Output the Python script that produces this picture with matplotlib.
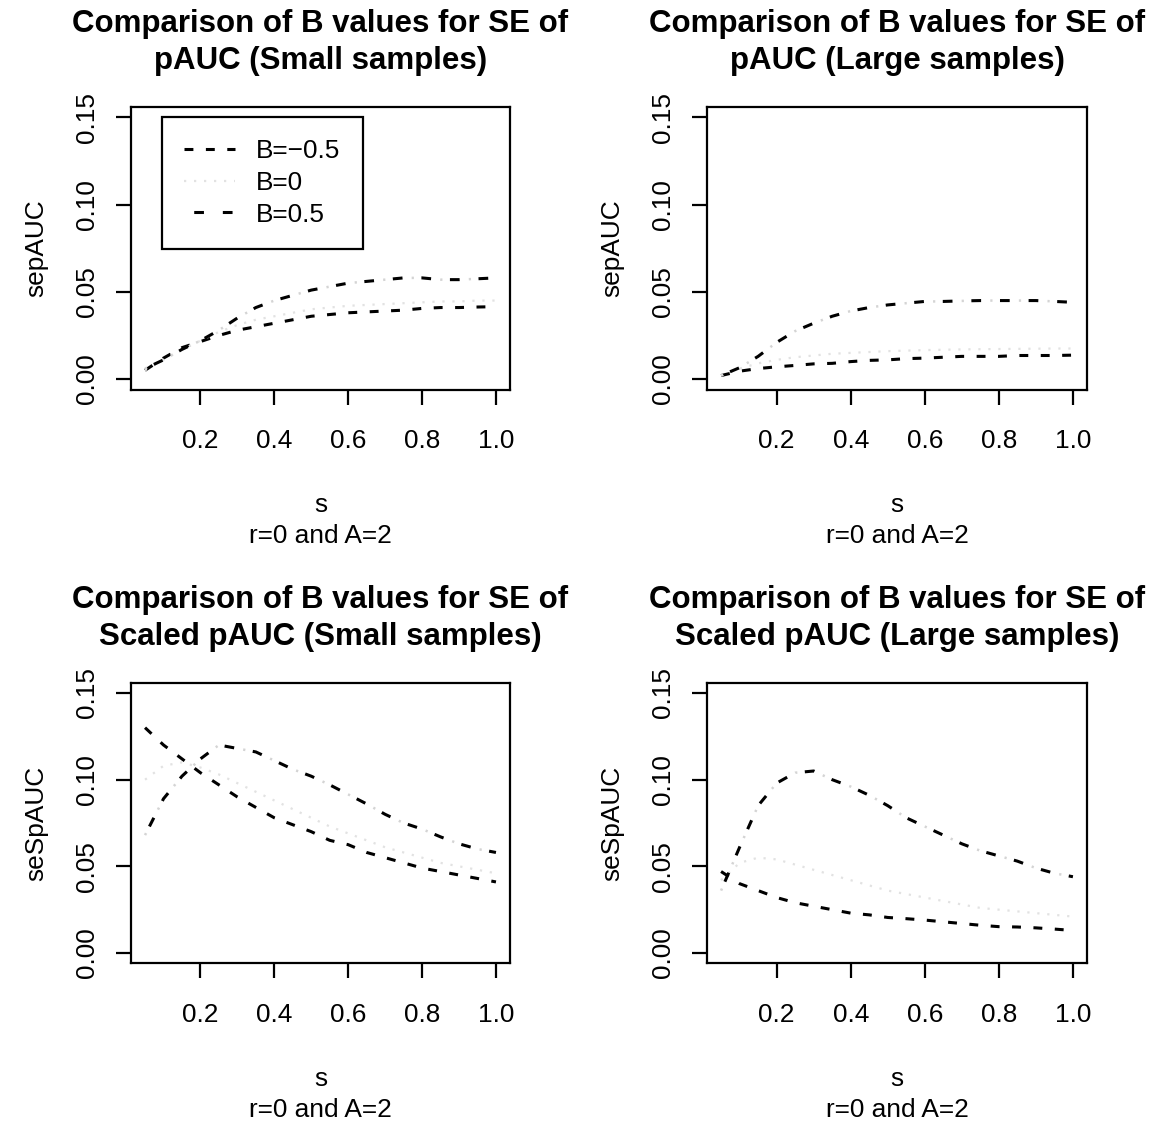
import matplotlib
matplotlib.use("Agg")
import matplotlib.pyplot as plt

plt.rcParams['font.family'] = ['Liberation Sans', 'DejaVu Sans']
plt.rcParams['lines.scale_dashes'] = False
plt.rcParams['axes.unicode_minus'] = True

# ---------------------------------------------------------------- data
s = [0.05, 0.10, 0.15, 0.20, 0.25, 0.30, 0.35, 0.40, 0.45, 0.50,
     0.55, 0.60, 0.65, 0.70, 0.75, 0.80, 0.85, 0.90, 0.95, 1.00]

# SE of pAUC, small samples
sepauc_small_bneg = [0.005, 0.012, 0.018, 0.0215, 0.025, 0.028, 0.030, 0.032, 0.034, 0.036,
                     0.037, 0.038, 0.0385, 0.039, 0.0395, 0.0405, 0.041, 0.041, 0.0413, 0.0415]
sepauc_small_b0 = [0.005, 0.011, 0.017, 0.022, 0.027, 0.031, 0.034, 0.036, 0.038, 0.040,
                   0.041, 0.042, 0.0425, 0.043, 0.0435, 0.044, 0.0445, 0.0445, 0.045, 0.045]
sepauc_small_bpos = [0.006, 0.011, 0.017, 0.022, 0.028, 0.035, 0.041, 0.045, 0.048, 0.051,
                     0.053, 0.055, 0.056, 0.057, 0.058, 0.058, 0.057, 0.057, 0.0575, 0.058]

# SE of pAUC, large samples
sepauc_large_bneg = [0.002, 0.0045, 0.006, 0.007, 0.0078, 0.0087, 0.009, 0.010, 0.0107, 0.011,
                     0.0117, 0.012, 0.0125, 0.013, 0.013, 0.013, 0.0135, 0.0135, 0.0135, 0.0137]
sepauc_large_b0 = [0.002, 0.006, 0.009, 0.011, 0.0125, 0.0135, 0.0145, 0.015, 0.0155, 0.016,
                   0.0163, 0.0166, 0.0168, 0.017, 0.0171, 0.0172, 0.0173, 0.0174, 0.0175, 0.0175]
sepauc_large_bpos = [0.002, 0.0065, 0.013, 0.021, 0.0275, 0.032, 0.036, 0.039, 0.041, 0.0425,
                     0.0435, 0.0445, 0.0445, 0.0448, 0.045, 0.045, 0.045, 0.045, 0.0445, 0.044]

# SE of scaled pAUC, small samples
sespauc_small_bneg = [0.130, 0.120, 0.112, 0.104, 0.097, 0.090, 0.084, 0.078, 0.074, 0.070,
                      0.065, 0.0625, 0.058, 0.055, 0.052, 0.049, 0.047, 0.045, 0.043, 0.041]
sespauc_small_b0 = [0.100, 0.108, 0.110, 0.107, 0.103, 0.098, 0.093, 0.088, 0.083, 0.078,
                    0.073, 0.069, 0.065, 0.061, 0.058, 0.055, 0.052, 0.050, 0.048, 0.046]
sespauc_small_bpos = [0.068, 0.089, 0.102, 0.112, 0.120, 0.118, 0.116, 0.111, 0.106, 0.102,
                      0.097, 0.0915, 0.086, 0.080, 0.075, 0.0715, 0.067, 0.063, 0.060, 0.058]

# SE of scaled pAUC, large samples
sespauc_large_bneg = [0.047, 0.040, 0.036, 0.032, 0.029, 0.027, 0.025, 0.023, 0.022, 0.0205,
                      0.0198, 0.019, 0.018, 0.017, 0.016, 0.0152, 0.015, 0.0145, 0.0138, 0.013]
sespauc_large_b0 = [0.042, 0.052, 0.055, 0.054, 0.051, 0.048, 0.045, 0.042, 0.039, 0.036,
                    0.034, 0.032, 0.030, 0.028, 0.026, 0.025, 0.024, 0.023, 0.022, 0.021]
sespauc_large_bpos = [0.036, 0.061, 0.085, 0.098, 0.104, 0.105, 0.100, 0.096, 0.091, 0.085,
                      0.078, 0.073, 0.068, 0.063, 0.059, 0.056, 0.053, 0.049, 0.046, 0.044]

legend_labels = ["B=\u22120.5", "B=0", "B=0.5"]
x_ticks = [0.2, 0.4, 0.6, 0.8, 1.0]
x_ticklabels = ["0.2", "0.4", "0.6", "0.8", "1.0"]
y_ticks = [0.00, 0.05, 0.10, 0.15]
y_ticklabels = ["0.00", "0.05", "0.10", "0.15"]

panels = [
    dict(title=("Comparison of B values for SE of", "pAUC (Small samples)"),
         ylabel="sepAUC", series=(sepauc_small_bneg, sepauc_small_b0, sepauc_small_bpos),
         box=(131, 107, 510, 389.5), legend=True),
    dict(title=("Comparison of B values for SE of", "pAUC (Large samples)"),
         ylabel="sepAUC", series=(sepauc_large_bneg, sepauc_large_b0, sepauc_large_bpos),
         box=(707, 107, 1087, 389.5), legend=False),
    dict(title=("Comparison of B values for SE of", "Scaled pAUC (Small samples)"),
         ylabel="seSpAUC", series=(sespauc_small_bneg, sespauc_small_b0, sespauc_small_bpos),
         box=(131, 682.6, 510, 963.4), legend=False),
    dict(title=("Comparison of B values for SE of", "Scaled pAUC (Large samples)"),
         ylabel="seSpAUC", series=(sespauc_large_bneg, sespauc_large_b0, sespauc_large_bpos),
         box=(707, 682.6, 1087, 963.4), legend=False),
]

# ---------------------------------------------------------------- style
W, H, DPI = 1168, 1122, 100
FS = 18.9          # axis text
FS_TITLE = 22.5    # panel titles
LW = 2.2
DASHED = (0, (6.4, 9.0))
DOTDASH_BAR = (13.6, (7.0, 13.6))
DOTDASH_DOT = (0, (1.6, 19.0))
DOTTED = (0, (1.6, 5.6))
DOT_GREY = "#d4d4d4"
FAINT_GREY = "#e2e2e2"

fig = plt.figure(figsize=(W / DPI, H / DPI), dpi=DPI)
fig.patch.set_facecolor("white")


def ftext(xpx, ypx, txt, **kw):
    return fig.text(xpx / W, 1 - ypx / H, txt, **kw)


for p in panels:
    l, t, r, b = p["box"]
    ax = fig.add_axes([l / W, 1 - b / H, (r - l) / W, (b - t) / H])
    bneg, b0, bpos = p["series"]

    h_neg, = ax.plot(s, bneg, color="black", lw=LW, linestyle=DASHED)
    h_0, = ax.plot(s, b0, color=FAINT_GREY, lw=1.6, linestyle=DOTTED)
    ax.plot(s, bpos, color=DOT_GREY, lw=1.8, linestyle=DOTDASH_DOT)
    h_pos, = ax.plot(s, bpos, color="black", lw=LW, linestyle=DOTDASH_BAR)

    ax.set_xlim(0.012, 1.038)
    ax.set_ylim(-0.006, 0.156)
    ax.set_xticks(x_ticks, x_ticklabels)
    ax.set_yticks(y_ticks, y_ticklabels)
    for sp in ax.spines.values():
        sp.set_linewidth(1.6)
    ax.tick_params(direction="out", length=10.8, width=1.6, labelsize=FS)
    ax.tick_params(axis="x", pad=18.0)
    ax.tick_params(axis="y", pad=12.0, labelrotation=90)
    for lab in ax.get_yticklabels():
        lab.set_verticalalignment("center")

    cx = (l + r) / 2
    ftext(cx, t - 75, p["title"][0], ha="center", va="baseline",
          fontsize=FS_TITLE, fontweight="bold")
    ftext(cx, t - 37.5, p["title"][1], ha="center", va="baseline",
          fontsize=FS_TITLE, fontweight="bold")
    ftext(cx, b + 122.5, "s", ha="center", va="baseline", fontsize=FS)
    ftext(cx, b + 153.5, "r=0 and A=2", ha="center", va="baseline", fontsize=FS)
    ftext(l - 88, (t + b) / 2, p["ylabel"], ha="center", va="baseline",
          rotation=90, rotation_mode="anchor", fontsize=FS)

    if p["legend"]:
        leg = ax.legend([h_neg, h_0, h_pos], legend_labels,
                        loc="upper left",
                        bbox_to_anchor=(162 / W, 1 - 117 / H),
                        bbox_transform=fig.transFigure,
                        fontsize=FS, frameon=True, fancybox=False,
                        framealpha=1, edgecolor="black",
                        borderpad=0.85, labelspacing=0.29,
                        handlelength=1.92, handletextpad=0.81,
                        borderaxespad=0)
        leg.get_frame().set_linewidth(1.6)

fig.savefig("out.png", dpi=DPI, facecolor="white")
